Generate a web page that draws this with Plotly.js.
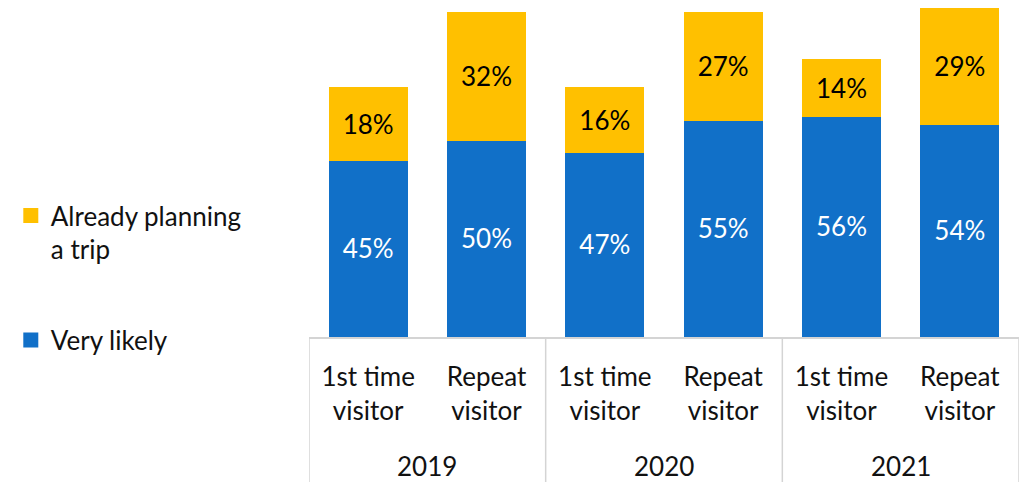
<!DOCTYPE html>
<html>
<head>
<meta charset="utf-8">
<script src="https://cdn.plot.ly/plotly-3.0.1.min.js"></script>
<style>
  html, body { margin: 0; padding: 0; background: #fff; }
  #chart { width: 1027px; height: 482px; }
</style>
</head>
<body>
<div id="chart"></div>
<script>
// values
var years = ['2019', '2019', '2020', '2020', '2021', '2021'];
var visitorTypes = ['1st time<br>visitor', 'Repeat<br>visitor', '1st time<br>visitor', 'Repeat<br>visitor', '1st time<br>visitor', 'Repeat<br>visitor'];
var veryLikely = [45, 50, 47, 55, 56, 54];
var alreadyPlanning = [18, 32, 16, 27, 14, 29];

var blue = '#1170C8';
var yellow = '#FFC000';
var lineGray = '#d4d4d4';

var idx = visitorTypes.map(function (d, i) { return i; });
function pct(v) { return v.map(function (n) { return n + '%'; }); }

// year groups: label in the middle, divider at each edge
var annotations = [];
var shapes = [];
var start = 0;
for (var i = 1; i <= years.length; i++) {
  if (i === years.length || years[i] !== years[start]) {
    annotations.push({
      x: (start + i - 1) / 2, xref: 'x',
      y: -0.383, yref: 'paper',
      text: years[start], showarrow: false,
      yanchor: 'middle', font: { size: 26, color: '#111' }
    });
    shapes.push({
      type: 'line', xref: 'x', yref: 'paper',
      x0: start - 0.5, x1: start - 0.5, y0: 0, y1: -0.45,
      line: { color: lineGray, width: 1.5 }
    });
    start = i;
  }
}
shapes.push({
  type: 'line', xref: 'x', yref: 'paper',
  x0: years.length - 0.5, x1: years.length - 0.5, y0: 0, y1: -0.45,
  line: { color: lineGray, width: 1.5 }
});

var trace1 = {
  x: idx,
  y: veryLikely,
  name: 'Very likely',
  type: 'bar',
  // outline in the same colour, mostly so the legend square is bigger
  marker: { color: blue, line: { color: blue, width: 3 } },
  text: pct(veryLikely),
  textposition: 'inside',
  insidetextanchor: 'middle',
  textfont: { color: '#ffffff', size: 26 },
  hoverinfo: 'skip',
  legendgroup: 'a',
  legendrank: 2
};
var trace2 = {
  x: idx,
  y: alreadyPlanning,
  name: 'Already planning<br>a trip',
  type: 'bar',
  marker: { color: yellow, line: { color: yellow, width: 3 } },
  text: pct(alreadyPlanning),
  textposition: 'inside',
  insidetextanchor: 'middle',
  textfont: { color: '#000000', size: 26 },
  hoverinfo: 'skip',
  legendgroup: 'b',
  legendrank: 1
};

var layout = {
  width: 1027,
  height: 482,
  barmode: 'stack',
  bargap: 0.36,
  margin: { l: 309, r: 8, t: 0, b: 145 },
  font: { family: 'Lato, "Open Sans", sans-serif', size: 26, color: '#111' },
  paper_bgcolor: '#ffffff',
  plot_bgcolor: '#ffffff',
  showlegend: true,
  legend: {
    x: -0.42,
    xanchor: 'left',
    y: 0.43,
    yanchor: 'top',
    valign: 'top',
    traceorder: 'grouped',
    tracegroupgap: 54,
    font: { size: 26 },
    itemclick: false
  },
  xaxis: {
    type: 'linear',
    range: [-0.5, years.length - 0.5],
    tickvals: idx,
    ticktext: visitorTypes,
    showline: true,
    linecolor: lineGray,
    linewidth: 1.5,
    ticks: '',
    showgrid: false,
    zeroline: false,
    ticklabelstandoff: 16,
    tickfont: { size: 26, color: '#111' },
    fixedrange: true
  },
  yaxis: {
    range: [0, 85.3],
    visible: false,
    showgrid: false,
    fixedrange: true
  },
  annotations: annotations,
  shapes: shapes
};

Plotly.newPlot('chart', [trace1, trace2], layout, { displayModeBar: false, staticPlot: true });
</script>
</body>
</html>
